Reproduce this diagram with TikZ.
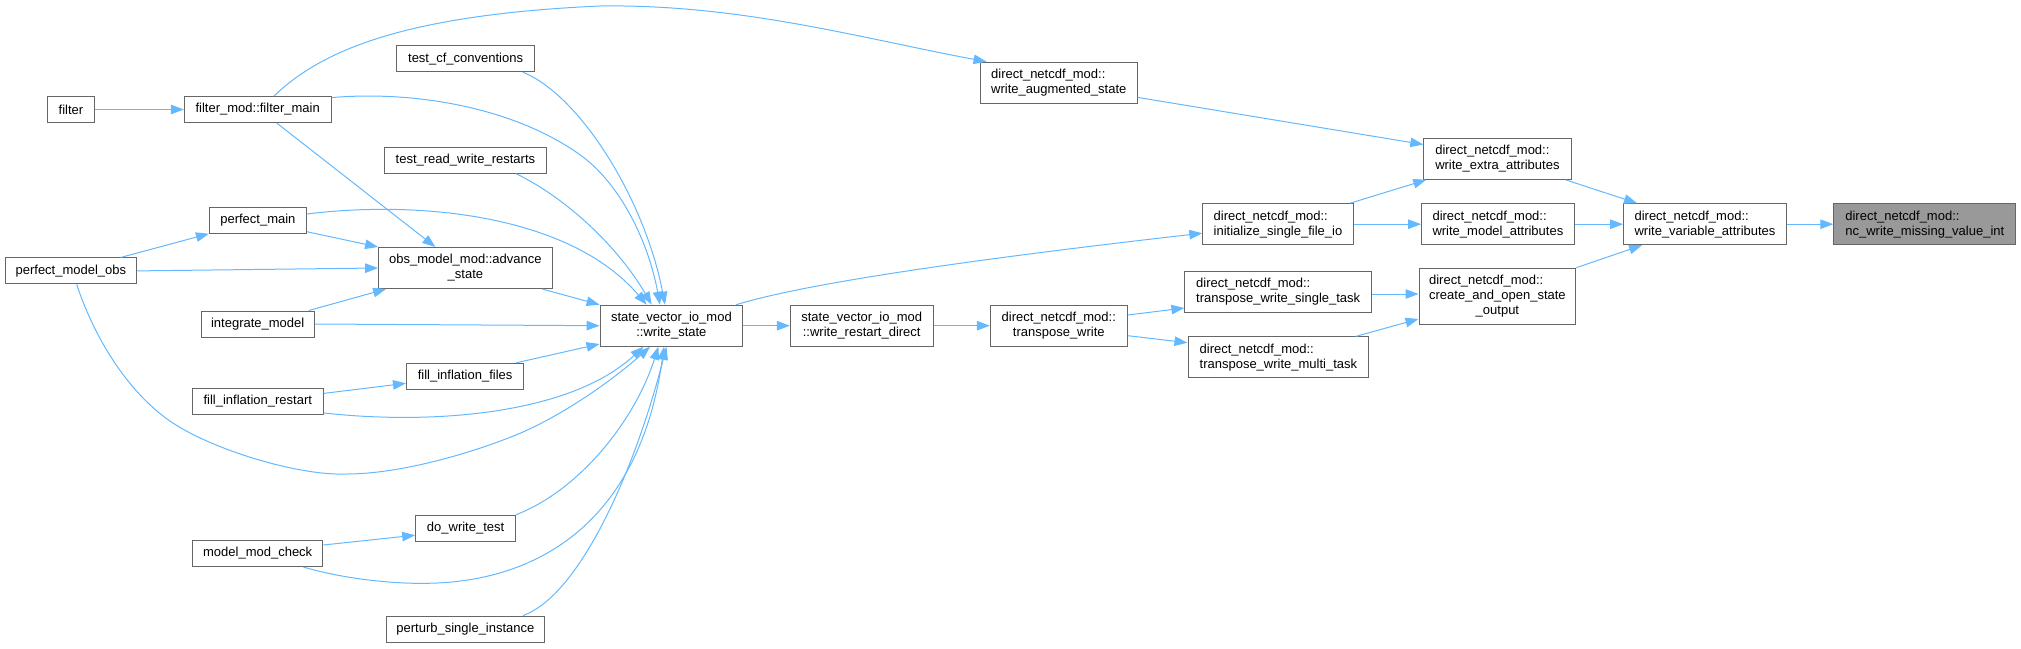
\documentclass[tikz,border=0pt]{standalone}
\usepackage{fontspec}
\setmainfont{Liberation Sans}
\usetikzlibrary{arrows.meta}
\definecolor{edgeblue}{HTML}{63B8FF}
\definecolor{boxborder}{HTML}{666666}
\definecolor{hlfill}{HTML}{999999}
\tikzset{
  box/.style={draw=boxborder, fill=white, line width=1pt, inner sep=0pt,
    font=\fontsize{13}{15}\selectfont, minimum height=26pt},
  boxtwo/.style={box, minimum height=41pt, align=left},
  boxtwoc/.style={box, minimum height=41pt, align=center},
  boxthree/.style={box, minimum height=56pt},
  conn/.style={draw=edgeblue, line width=1pt, -{Triangle[length=13pt,width=9.5pt]}}
}
\begin{document}
\begin{tikzpicture}[x=1pt,y=-1pt]
\useasboundingbox (0,0) rectangle (2021,648);
% nodes
\node[box, minimum width=46.4pt] (filter) at (71,109.5) {filter};
\node[box, minimum width=146.7pt] (fm) at (257.7,109.5) {filter\_mod::filter\_main};
\node[box, minimum width=138.4pt] (tcf) at (465.6,58.7) {test\_cf\_conventions};
\node[box, minimum width=161.2pt] (trw) at (465.4,160.2) {test\_read\_write\_restarts};
\node[box, minimum width=96.9pt] (pm) at (257.9,220.2) {perfect\_main};
\node[box, minimum width=131.7pt] (pmo) at (70.9,270.9) {perfect\_model\_obs};
\node[boxtwoc, minimum width=173.6pt] (adv) at (465.4,268) {obs\_model\_mod::advance\\\_state};
\node[box, minimum width=113.3pt] (im) at (257.7,324) {integrate\_model};
\node[box, minimum width=117.2pt] (fif) at (465.1,376.3) {fill\_inflation\_files};
\node[box, minimum width=130.5pt] (fir) at (257.8,401.4) {fill\_inflation\_restart};
\node[box, minimum width=99.9pt] (dwt) at (465.6,528.2) {do\_write\_test};
\node[box, minimum width=130.3pt] (mmc) at (257.7,553.5) {model\_mod\_check};
\node[box, minimum width=158.4pt] (psi) at (465.4,629) {perturb\_single\_instance};
\node[boxtwoc, minimum width=142.7pt] (ws) at (671.4,325.7) {state\_vector\_io\_mod\\::write\_state};
\node[boxtwoc, minimum width=142.8pt] (wrd) at (861.7,325.7) {state\_vector\_io\_mod\\::write\_restart\_direct};
\node[boxtwoc, minimum width=137pt] (tw) at (1058.8,325.7) {direct\_netcdf\_mod::\\transpose\_write};
\node[boxtwo, minimum width=186.6pt] (st) at (1278.2,292) {direct\_netcdf\_mod::\\transpose\_write\_single\_task};
\node[boxtwo, minimum width=180.8pt] (mt) at (1278.4,357.4) {direct\_netcdf\_mod::\\transpose\_write\_multi\_task};
\node[boxtwo, minimum width=156.7pt] (wa) at (1058.8,82.7) {direct\_netcdf\_mod::\\write\_augmented\_state};
\node[boxtwo, minimum width=150.4pt] (init) at (1278,224.2) {direct\_netcdf\_mod::\\initialize\_single\_file\_io};
\node[boxtwo, minimum width=147.2pt] (wea) at (1497.4,158.8) {direct\_netcdf\_mod::\\write\_extra\_attributes};
\node[boxtwo, minimum width=152.5pt] (wma) at (1497.9,224.2) {direct\_netcdf\_mod::\\write\_model\_attributes};
\node[boxthree, minimum width=156.8pt] (cao) at (1497.4,296.2) {\begin{tabular}{@{}l@{}}direct\_netcdf\_mod::\\create\_and\_open\_state\\\multicolumn{1}{@{}c@{}}{\_output}\end{tabular}};
\node[boxtwo, minimum width=162.9pt] (wva) at (1705,224.2) {direct\_netcdf\_mod::\\write\_variable\_attributes};
\node[boxtwo, minimum width=182pt, fill=hlfill] (nc) at (1924.8,224.2) {direct\_netcdf\_mod::\\nc\_write\_missing\_value\_int};
% connectors
\draw[conn] (filter.east) -- (fm.west);
\draw[conn] ([xshift=16.3pt]fm.north) .. controls (320,52) and (400,15) .. (600,6)
  .. controls (740,4) and (860,38) .. ([xshift=6.6pt]wa.north west);
\draw[conn] ([yshift=-1.6pt]fm.north east) .. controls (420,90) and (520,110) .. (583,157)
  .. controls (620,185) and (648,240) .. ([xshift=-11.4pt]ws.north);
\draw[conn] ([xshift=19pt]fm.south) -- ([xshift=-30pt]adv.north);
\draw[conn] ([xshift=-12.5pt]tcf.south east) .. controls (580,95) and (645,200) .. ([xshift=-6.4pt]ws.north);
\draw[conn] ([xshift=-30.4pt]trw.south east) .. controls (570,200) and (620,250) .. ([xshift=-19.7pt]ws.north);
\draw[conn] ([yshift=6.2pt]pm.east) .. controls (420,200) and (570,215) .. ([xshift=-24.7pt]ws.north);
\draw[conn] ([yshift=-11.5pt]pm.east) -- (adv.north west);
\draw[conn] ([xshift=50pt]pmo.north) -- (pm.south west);
\draw[conn] (pmo.east) -- (adv.west);
\draw[conn] ([xshift=5.8pt]pmo.south) .. controls (95,340) and (130,395) .. (173.3,423.3)
  .. controls (216,451) and (300,476) .. (346.7,474)
  .. controls (400,474) and (473,453) .. (520,433.3)
  .. controls (567,413) and (615,378) .. ([xshift=-21.4pt]ws.south);
\draw[conn] ([xshift=-10.5pt]adv.south east) -- (ws.north west);
\draw[conn] ([xshift=-6pt]im.north east) -- ([xshift=8pt]adv.south west);
\draw[conn] (im.east) -- (ws.west);
\draw[conn] ([xshift=-8pt]fif.north east) -- ([yshift=2.7pt]ws.south west);
\draw[conn] ([yshift=8pt]fir.east) -- ([yshift=-7pt]fif.west);
\draw[conn] ([yshift=2pt]fir.south east) .. controls (430,425) and (570,415) .. ([xshift=-28pt]ws.south);
\draw[conn] (dwt.north east) .. controls (580,490) and (635,420) .. ([xshift=-13pt]ws.south);
\draw[conn] ([yshift=8.5pt]mmc.east) -- ([yshift=-7pt]dwt.west);
\draw[conn] ([xshift=-20pt]mmc.south east) .. controls (340,578) and (390,584) .. (426.7,583.3)
  .. controls (540,582) and (640,520) .. ([xshift=-7.4pt]ws.south);
\draw[conn] ([xshift=-22pt]psi.north east) .. controls (580,595) and (635,470) .. ([xshift=-5pt]ws.south);
\draw[conn] (ws.east) -- (wrd.west);
\draw[conn] ([xshift=-7pt]ws.north east) .. controls (800,285) and (950,262) .. ([yshift=-9pt]init.west);
\draw[conn] (wrd.east) -- (tw.west);
\draw[conn] ([yshift=10.7pt]tw.east) -- ([yshift=-16pt]st.west);
\draw[conn] ([yshift=-10pt]tw.east) -- ([yshift=14.7pt]mt.west);
\draw[conn] ([yshift=-2pt]st.east) -- ([yshift=2.2pt]cao.west);
\draw[conn] ([xshift=-13.6pt]mt.north east) -- ([yshift=5.7pt]cao.south west);
\draw[conn] ([yshift=6.3pt]wa.south east) -- ([yshift=-6.7pt]wea.north west);
\draw[conn] ([xshift=-3.6pt]init.north east) -- ([xshift=3pt]wea.south west);
\draw[conn] (init.east) -- (wma.west);
\draw[conn] ([xshift=-6pt]wea.south east) -- ([xshift=14pt]wva.north west);
\draw[conn] (wma.east) -- (wva.west);
\draw[conn] (cao.north east) -- ([xshift=19pt]wva.south west);
\draw[conn] (wva.east) -- (nc.west);
\end{tikzpicture}
\end{document}
